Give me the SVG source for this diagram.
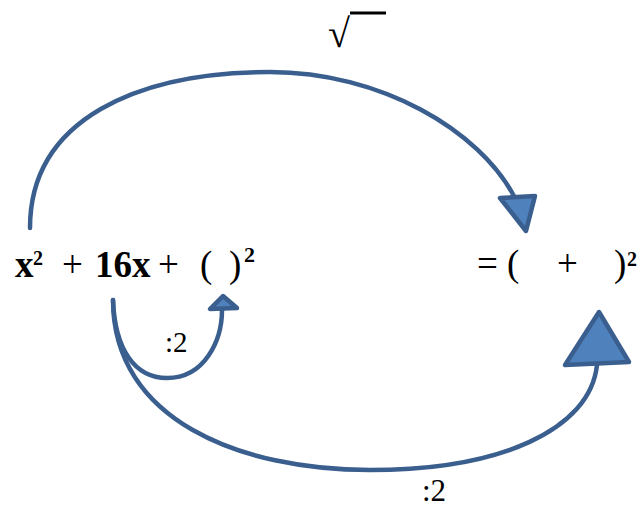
<svg xmlns="http://www.w3.org/2000/svg" width="643" height="509" viewBox="0 0 643 509">
<style>
.ln{fill:none;stroke:#3A5F8F;stroke-width:4.5;stroke-linecap:round}
.ah{fill:#4F81BD;stroke:#3A5F8F;stroke-width:4.5;stroke-linejoin:round}
.t{fill:#000}
.b{font-weight:bold}
</style>
<rect width="643" height="509" fill="#fff"/>
<g id="connectors">
<path class="ln" d="M30 228 C30 118 140 72 270 72 C380 72 480 130 515 198"/>
<polygon class="ah" points="500,198 535,196 526,231"/>
<path class="ln" d="M113 300 C115 350 135 378 167 378 C205 378 222 340 222 310"/>
<polygon class="ah" points="210,309 237,308 223,296"/>
<path class="ln" d="M113 300 C113 420 240 470 370 470 C500 470 590 430 597 365"/>
<polygon class="ah" points="565,365 629,362 599,312"/>
</g>
<g font-family="'Liberation Serif', 'Times New Roman', serif">
<g id="node-left">
<text class="t b" x="15" y="277" font-size="37">x</text>
<text class="t b" x="33" y="265" font-size="20">2</text>
<text class="t" x="62" y="277" font-size="37">+</text>
<text class="t b" x="95" y="277" font-size="37">16x</text>
<text class="t" x="158" y="277" font-size="37">+</text>
<text class="t" x="200" y="277" font-size="37">(</text>
<text class="t" x="229" y="277" font-size="37">)</text>
<text class="t b" x="244" y="262" font-size="22">2</text>
</g>
<g id="node-right">
<text class="t" x="477" y="276" font-size="37">=</text>
<text class="t" x="507" y="276" font-size="37">(</text>
<text class="t" x="557" y="276" font-size="37">+</text>
<text class="t" x="614" y="276" font-size="37">)</text>
<text class="t b" x="627" y="266" font-size="20">2</text>
</g>
<g id="label-sqrt">
<text class="t" x="328" y="47" font-size="40">√</text>
<line x1="350" y1="13" x2="386" y2="13" stroke="#000" stroke-width="3"/>
</g>
<g id="label-div-small">
<text class="t" x="165" y="352" font-size="29">:2</text>
</g>
<g id="label-div-big">
<text class="t" x="422" y="501" font-size="31">:2</text>
</g>
</g>
</svg>
